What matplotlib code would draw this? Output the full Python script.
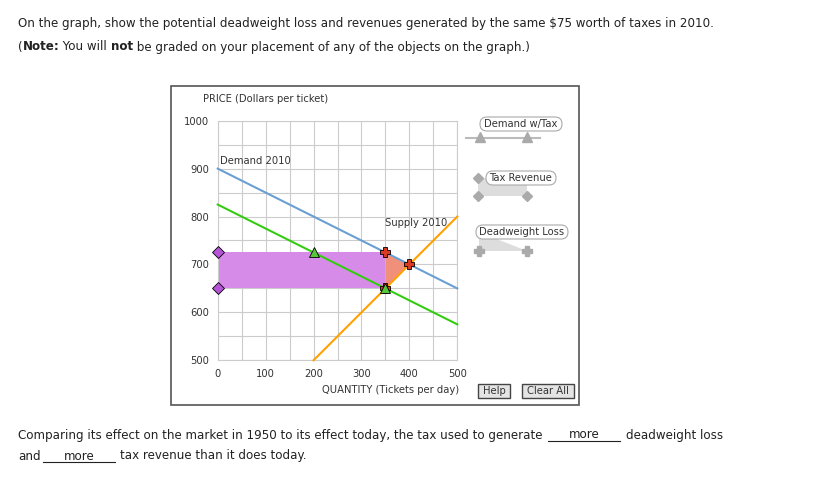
import matplotlib.pyplot as plt
from matplotlib.patches import Rectangle, FancyBboxPatch, Polygon
import numpy as np

# data
quantity_ticks = [0, 100, 200, 300, 400, 500]
price_ticks = [500, 600, 700, 800, 900, 1000]
demand_q = [0, 500]
demand_p = [900, 650]
demand_tax_q = [0, 500]
demand_tax_p = [825, 575]
supply_q = [200, 500]
supply_p = [500, 800]
tax_q = 350
price_buyers = 725
price_sellers = 650
eq_q, eq_p = 400, 700
answers = ["more", "more"]

W, H = 830, 495
fig = plt.figure(figsize=(W / 100, H / 100), dpi=100)
fig.patch.set_facecolor("white")
renderer = fig.canvas.get_renderer()

# overlay in pixel coords for page elements
ov = fig.add_axes([0, 0, 1, 1])
ov.set_xlim(0, W)
ov.set_ylim(H, 0)
ov.axis("off")

txt = dict(family="DejaVu Sans", fontsize=8.6, color="#222222", va="center")


def run_text(x, y, pieces):
    # place text pieces one after another, (string, bold)
    for s, bold in pieces:
        t = ov.text(x, y, s, fontweight="bold" if bold else "normal", **txt)
        bb = t.get_window_extent(renderer)
        x += bb.width


ov.text(18, 23, "On the graph, show the potential deadweight loss and revenues generated by the same $75 worth of taxes in 2010.", **txt)
run_text(18, 47, [("(", False), ("Note:", True), (" You will ", False), ("not", True),
                  (" be graded on your placement of any of the objects on the graph.)", False)])

ov.text(18, 435, "Comparing its effect on the market in 1950 to its effect today, the tax used to generate", **txt)
ov.plot([548, 620], [441, 441], color="#222222", lw=0.8)
ov.text(584, 435, answers[0], ha="center", **txt)
ov.text(626, 435, "deadweight loss", **txt)
ov.text(18, 456, "and", **txt)
ov.plot([43, 115], [462, 462], color="#222222", lw=0.8)
ov.text(79, 456, answers[1], ha="center", **txt)
ov.text(120, 456, "tax revenue than it does today.", **txt)

# panel frame
ov.add_patch(Rectangle((171, 86), 408, 319, fill=False, ec="#555555", lw=1.2))

small = dict(family="DejaVu Sans", fontsize=7.2, color="#333333")
ov.text(203, 99, "PRICE (Dollars per ticket)", va="center", **small)

# palette
def pill(x, y, w, h, label):
    ov.add_patch(FancyBboxPatch((x, y), w, h, boxstyle="round,pad=0,rounding_size=7",
                                fc="white", ec="#aaaaaa", lw=0.8, zorder=3))
    ov.text(x + w / 2, y + h / 2, label, ha="center", va="center", zorder=4, **small)

pill(480, 117, 82, 14, "Demand w/Tax")
ov.plot([466, 540], [138, 138], color="#bbbbbb", lw=1.5)
ov.plot([480, 527], [137, 137], ls="none", marker="^", ms=7, color="#aaaaaa")

ov.add_patch(Rectangle((478, 178), 49, 18, fc="#dddddd", ec="none"))
pill(486, 171, 70, 14, "Tax Revenue")
ov.plot([478, 478, 527], [178, 196, 196], ls="none", marker="D", ms=5, color="#aaaaaa")

ov.add_patch(Polygon([(479, 232), (479, 251), (527, 251)], fc="#dddddd", ec="none"))
pill(476, 225, 92, 14, "Deadweight Loss")
ov.plot([479, 527], [251, 251], ls="none", marker="P", ms=7, color="#aaaaaa")

# buttons
for x, w, label in [(478, 32, "Help"), (522, 52, "Clear All")]:
    ov.add_patch(Rectangle((x, 384), w, 14, fc="#e4e4e4", ec="#444444", lw=1))
    ov.text(x + w / 2, 391, label, ha="center", va="center", **small)

# graph axes
ax = fig.add_axes([217.7 / W, (H - 360.3) / H, (457.3 - 217.7) / W, (360.3 - 120.7) / H])
ax.set_xlim(0, 500)
ax.set_ylim(500, 1000)
ax.set_xticks(np.arange(0, 501, 50))
ax.set_yticks(np.arange(500, 1001, 50))
ax.grid(True, color="#cccccc", lw=0.8)
ax.set_axisbelow(True)
for s in ax.spines.values():
    s.set_color("#cccccc")
ax.tick_params(length=0, labelsize=7.2, colors="#333333", pad=6)
ax.set_xticklabels([str(v) if v in quantity_ticks else "" for v in np.arange(0, 501, 50)])
ax.set_yticklabels([str(v) if v in price_ticks else "" for v in np.arange(500, 1001, 50)])

ax.add_patch(Rectangle((0, price_sellers), tax_q, price_buyers - price_sellers,
                       fc="#d78be8", ec="none", zorder=2))
ax.add_patch(Polygon([(tax_q, price_buyers), (eq_q, eq_p), (tax_q, price_sellers)],
                     fc="#f0907a", ec="none", zorder=2))

ax.plot(demand_q, demand_p, color="#6a9fd4", lw=1.5, zorder=3, clip_on=False)
ax.plot(demand_tax_q, demand_tax_p, color="#33cc11", lw=1.5, zorder=3, clip_on=False)
ax.plot(supply_q, supply_p, color="#ffa000", lw=1.5, zorder=3, clip_on=False)

ax.plot([0, 0], [price_buyers, price_sellers], ls="none", marker="D", ms=6,
        mfc="#b455d8", mec="black", mew=0.6, zorder=5, clip_on=False)
ax.plot([tax_q, eq_q, tax_q], [price_buyers, eq_p, price_sellers], ls="none", marker="P", ms=7,
        mfc="#d83a22", mec="black", mew=0.6, zorder=5, clip_on=False)
ax.plot([200, tax_q], [price_buyers, price_sellers], ls="none", marker="^", ms=7,
        mfc="#55c83a", mec="black", mew=0.6, zorder=6, clip_on=False)

ax.text(5, 916, "Demand 2010", va="center", zorder=4, **small)
ax.text(350, 787, "Supply 2010", va="center", zorder=4, **small)
ov.text(459, 390, "QUANTITY (Tickets per day)", ha="right", va="center", **small)

fig.savefig("out.png", dpi=100, facecolor="white")
